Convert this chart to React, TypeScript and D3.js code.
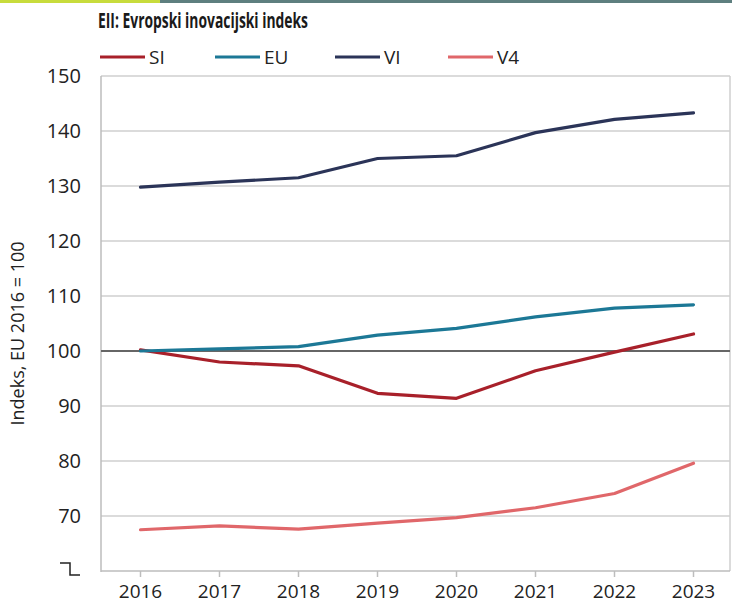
import React from "react";
import * as d3 from "d3";

// EII values, index EU 2016 = 100
const years = ["2016", "2017", "2018", "2019", "2020", "2021", "2022", "2023"];
const siValues = [100.2, 98.0, 97.3, 92.3, 91.4, 96.4, 99.8, 103.1];
const euValues = [100.0, 100.4, 100.8, 102.9, 104.1, 106.2, 107.8, 108.4];
const viValues = [129.8, 130.7, 131.5, 135.0, 135.5, 139.7, 142.1, 143.3];
const v4Values = [67.5, 68.2, 67.6, 68.7, 69.7, 71.5, 74.1, 79.6];
const yTicks = [70, 80, 90, 100, 110, 120, 130, 140, 150];

const series = [
  { name: "SI", values: siValues, color: "#a8202a" },
  { name: "EU", values: euValues, color: "#1c7896" },
  { name: "VI", values: viValues, color: "#2b3458" },
  { name: "V4", values: v4Values, color: "#e0676a" },
];

const W = 732;
const H = 605;
const font = "'Open Sans', sans-serif";

export default function App() {
  const left = 101, right = 730, top = 76, bottom = 571;
  const x = d3.scalePoint().domain(years).range([left, 733]).padding(0.5);
  const y = d3.scaleLinear().domain([60, 150]).range([bottom, top]);
  const line = d3.line<number>()
    .x((_, i) => x(years[i])!)
    .y(d => y(d));

  const legendX = [100, 215, 335, 448];

  return (
    <svg width={W} height={H} style={{ position: "absolute", left: 0, top: 0, background: "#fff" }}>
      {/* top banner */}
      <rect x={0} y={0} width={160} height={3} fill="#c8dc3c" />
      <rect x={160} y={0} width={W - 160} height={3} fill="#5e7f7f" />

      <text x={98} y={28} fontFamily={font} fontWeight="bold" fontSize={21}
        textLength={210} lengthAdjust="spacingAndGlyphs" fill="#1a1a1a">
        EII: Evropski inovacijski indeks
      </text>

      {/* legend */}
      {series.map((s, i) => (
        <g key={s.name}>
          <line x1={legendX[i]} x2={legendX[i] + 45} y1={57} y2={57} stroke={s.color} strokeWidth={3} />
          <text x={legendX[i] + 49} y={64} fontFamily={font} fontSize={19} fill="#222">{s.name}</text>
        </g>
      ))}

      {/* gridlines */}
      {yTicks.filter(t => t !== 100).map(t => (
        <line key={t} x1={left} x2={right} y1={y(t)} y2={y(t)} stroke="#cfcfcf" strokeWidth={1.5} />
      ))}
      <line x1={right} x2={right} y1={top} y2={bottom} stroke="#cfcfcf" strokeWidth={1.5} />

      {/* axes */}
      <line x1={left} x2={left} y1={top} y2={bottom + 1} stroke="#bdbdbd" strokeWidth={1.5} />
      <line x1={left} x2={right} y1={bottom} y2={bottom} stroke="#bdbdbd" strokeWidth={1.5} />
      {years.map(yr => (
        <g key={yr}>
          <line x1={x(yr)} x2={x(yr)} y1={bottom} y2={bottom + 6} stroke="#bdbdbd" strokeWidth={1.5} />
          <text x={x(yr)} y={598} textAnchor="middle" fontFamily={font} fontSize={19} fill="#222">{yr}</text>
        </g>
      ))}
      {yTicks.map(t => (
        <text key={t} x={81} y={y(t) + 7} textAnchor="end" fontFamily={font} fontSize={20} fill="#222">{t}</text>
      ))}
      {/* axis break mark */}
      <path d="M60,563 H70 V575 H80" fill="none" stroke="#222" strokeWidth={1.5} />

      <text transform={`translate(24,${(top + bottom) / 2 + 10}) rotate(-90)`} textAnchor="middle"
        fontFamily={font} fontSize={18} fill="#222">
        Indeks, EU 2016 = 100
      </text>

      {/* reference line at 100 */}
      <line x1={left} x2={right} y1={y(100)} y2={y(100)} stroke="#666" strokeWidth={2} />

      {series.map(s => (
        <path key={s.name} d={line(s.values)!} fill="none" stroke={s.color} strokeWidth={3.2}
          strokeLinejoin="round" strokeLinecap="round" />
      ))}
    </svg>
  );
}
